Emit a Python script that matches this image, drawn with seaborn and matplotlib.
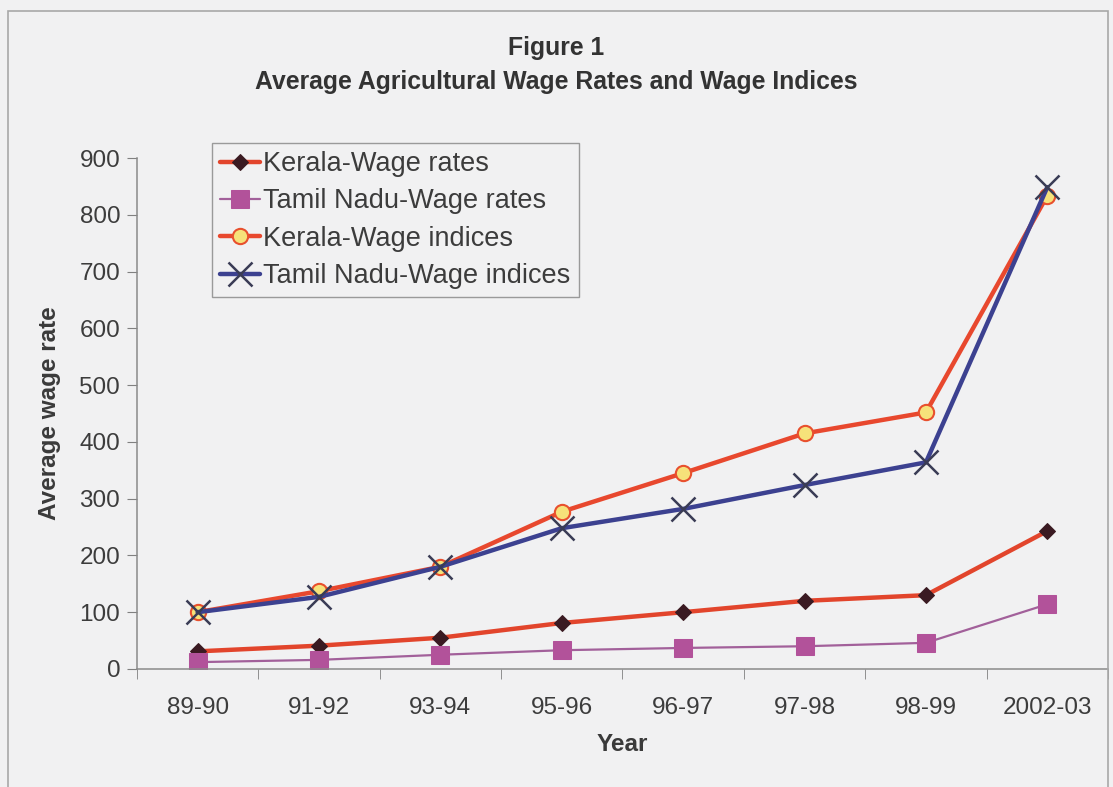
import numpy as np
import pandas as pd
import matplotlib
matplotlib.use('Agg')
import matplotlib.pyplot as plt
import seaborn as sns
from matplotlib.patches import Rectangle

# Data
years = ['89-90', '91-92', '93-94', '95-96', '96-97', '97-98', '98-99', '2002-03']
kerala_rates = [31, 41, 55, 81, 100, 120, 130, 243]
tn_rates = [12, 16, 25, 33, 37, 40, 46, 114]
kerala_indices = [100, 137, 180, 277, 345, 415, 452, 834]
tn_indices = [100, 127, 180, 248, 282, 324, 364, 849]

bg = '#f1f1f2'
sns.set_style('white')
plt.rcParams['font.family'] = ['Liberation Sans', 'DejaVu Sans']

fig = plt.figure(figsize=(11.13, 7.87), dpi=100, facecolor=bg)
ax = fig.add_axes([0.123, 0.150, 0.8725, 0.649])
ax.set_facecolor(bg)

x = np.arange(len(years))

sns.lineplot(x=x, y=kerala_rates, ax=ax, color='#e2452c', lw=3.2,
             marker='D', markersize=8.5, markerfacecolor='#3a1a22',
             markeredgecolor='#3a1a22', label='Kerala-Wage rates')
sns.lineplot(x=x, y=tn_rates, ax=ax, color='#a2609a', lw=1.6,
             marker='s', markersize=13, markerfacecolor='#b2529a',
             markeredgecolor='#b2529a', label='Tamil Nadu-Wage rates')
sns.lineplot(x=x, y=kerala_indices, ax=ax, color='#e8482e', lw=3.2,
             marker='o', markersize=11, markerfacecolor='#f6e27a',
             markeredgecolor='#e8502e', markeredgewidth=1.5,
             label='Kerala-Wage indices')
sns.lineplot(x=x, y=tn_indices, ax=ax, color='#3c4190', lw=3.2,
             marker='x', markersize=17, markeredgecolor='#3a3c55',
             markeredgewidth=1.8, label='Tamil Nadu-Wage indices')

ax.set_xlim(-0.5, len(years) - 0.5)
ax.set_ylim(0, 900)
ax.set_yticks(range(0, 901, 100))
ax.set_xticks(x)
ax.set_xticklabels(years)
ax.set_xticks(np.arange(-0.5, len(years)), minor=True)
ax.tick_params(axis='x', which='major', length=0, pad=20, labelsize=17.5, labelcolor='#3c3c3c')
ax.tick_params(axis='x', which='minor', length=7, color='#808080', direction='out')
ax.tick_params(axis='y', length=7, color='#808080', direction='out', labelsize=17.5,
               labelcolor='#3c3c3c', pad=5)
ax.tick_params(axis='x', which='minor', bottom=True)
ax.tick_params(axis='y', left=True)

for s in ['top', 'right']:
    ax.spines[s].set_visible(False)
for s in ['left', 'bottom']:
    ax.spines[s].set_color('#8a8a8a')
    ax.spines[s].set_linewidth(1.1)

ax.set_xlabel('Year', fontsize=17.5, fontweight='bold', color='#3a3a3a', labelpad=10)
ax.set_ylabel('Average wage rate', fontsize=17.5, fontweight='bold', color='#3a3a3a', labelpad=13)

leg = ax.legend(loc='upper left', bbox_to_anchor=(0.077, 1.03), fontsize=19.5,
                frameon=True, fancybox=False, framealpha=1, facecolor=bg,
                edgecolor='#9a9a9a', handlelength=1.5, handletextpad=0.1,
                labelspacing=0.42, borderpad=0.3, borderaxespad=0)
for t in leg.get_texts():
    t.set_color('#3c3c3c')

fig.text(0.5, 1 - 48 / 787, 'Figure 1', ha='center', va='center', fontsize=17.8,
         fontweight='bold', color='#333333')
fig.text(0.5, 1 - 82 / 787, 'Average Agricultural Wage Rates and Wage Indices',
         ha='center', va='center', fontsize=17.8, fontweight='bold', color='#333333')

fig.add_artist(Rectangle((8 / 1113, -0.05), 1100 / 1113, 1.05 - 11 / 787,
                         transform=fig.transFigure, fill=False,
                         edgecolor='#a8a8a8', lw=1.2))

fig.savefig('out.png', dpi=100, facecolor=bg)
